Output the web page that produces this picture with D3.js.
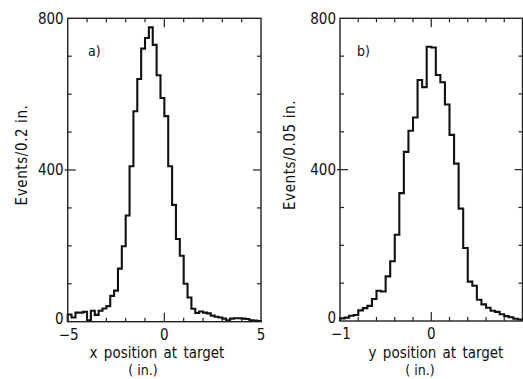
<!DOCTYPE html>
<html>
<head>
<meta charset="utf-8">
<script src="https://cdn.jsdelivr.net/npm/d3@7"></script>
<style>
  html, body { margin: 0; padding: 0; background: #fff; }
  svg { display: block; }
  text { font-family: "DejaVu Sans Condensed", "DejaVu Sans", sans-serif; fill: #111; }
</style>
</head>
<body>
<svg id="chart" width="523" height="379"></svg>
<script>
// ---- Data ----
// Panel a): x position at target, bins of 0.2 in. from -5 to 5
const binsA_start = -5;
const binsA_width = 0.2;
const countsA = [19, 11, 24, 24, 26, 4, 29, 18, 29, 35,
                 41, 68, 82, 140, 199, 280, 410, 555, 640, 720,
                 748, 776, 730, 650, 590, 542, 410, 308, 218, 174,
                 100, 64, 34, 23, 27, 24, 22, 16, 13, 11,
                 8, 4, 8, 9, 9, 8, 7, 4, 3, 2];
// Panel b): y position at target, bins of 0.05 in. from -1 to 1
const binsB_start = -1;
const binsB_width = 0.05;
const countsB = [7, 9, 14, 16, 28, 34, 40, 58, 80, 78,
                 118, 158, 228, 338, 447, 503, 538, 637, 618, 725,
                 723, 650, 631, 572, 492, 416, 297, 193, 104, 93,
                 56, 44, 35, 27, 24, 18, 13, 10, 6, 4];

const yTickLabels = [0, 400, 800];
const xTickLabelsA = [-5, 0, 5];
const xTickLabelsB = [-1, 0];

const svg = d3.select("#chart");

function panel(opts) {
  const { x, y, counts, start, width, minorX, labelsX, yTitle, xTitle, inX, tag, tagX } = opts;
  const g = svg.append("g");
  const [x0, x1] = x.range();
  const [yb, yt] = y.range();

  // histogram
  const pts = [[start, 0]];
  counts.forEach((c, i) => pts.push([start + i * width, c]));
  const end = start + counts.length * width;
  pts.push([end, counts[counts.length - 1]]);
  pts.push([end, 0]);
  const line = d3.line().x(d => x(d[0])).y(d => y(d[1])).curve(d3.curveStepAfter);
  g.append("path").attr("d", line(pts))
    .attr("fill", "none").attr("stroke", "#111").attr("stroke-width", 2.1)
    .attr("stroke-linejoin", "miter");

  // frame
  g.append("rect").attr("x", x0).attr("y", yt).attr("width", x1 - x0).attr("height", yb - yt)
    .attr("fill", "none").attr("stroke", "#222").attr("stroke-width", 1.4);

  // y ticks (every 100)
  const yt100 = d3.range(0, 801, 100);
  yt100.forEach(v => {
    const major = v % 400 === 0;
    const len = major ? 8 : 4;
    if (v > 0 && v < 800) {
      g.append("line").attr("x1", x0 - (major ? 3 : 0)).attr("x2", x0 + len)
        .attr("y1", y(v)).attr("y2", y(v)).attr("stroke", "#222").attr("stroke-width", 1.2);
      g.append("line").attr("x1", x1 - len).attr("x2", x1)
        .attr("y1", y(v)).attr("y2", y(v)).attr("stroke", "#222").attr("stroke-width", 1.2);
    }
  });
  // x ticks
  minorX.forEach(v => {
    const major = Math.abs(v) < 1e-9;
    const len = major ? 9 : 4;
    if (x(v) > x0 + 1 && x(v) < x1 - 1) {
      g.append("line").attr("x1", x(v)).attr("x2", x(v)).attr("y1", yt).attr("y2", yt + len)
        .attr("stroke", "#222").attr("stroke-width", 1.2);
      g.append("line").attr("x1", x(v)).attr("x2", x(v)).attr("y1", yb - len).attr("y2", yb)
        .attr("stroke", "#222").attr("stroke-width", 1.2);
    }
  });

  // y tick labels
  yTickLabels.forEach(v => {
    g.append("text").attr("x", x0 - 4).attr("y", y(v)).attr("dy", v === 0 ? "0.15em" : "0.36em")
      .attr("text-anchor", "end").attr("font-size", 15).text(v);
  });
  // x tick labels
  labelsX.forEach(v => {
    g.append("text").attr("x", x(v) + (v < 0 ? 1 : 0)).attr("y", yb + 18)
      .attr("text-anchor", "middle").attr("font-size", 15)
      .text(v < 0 ? "\u2212" + Math.abs(v) : v);
  });

  // titles
  g.append("text").attr("transform", `translate(${opts.yTitleX},155) rotate(-90)`)
    .attr("text-anchor", "middle").attr("font-size", 15).attr("letter-spacing", 0.6)
    .text(yTitle);
  g.append("text").attr("x", opts.xTitleX).attr("y", 358).attr("text-anchor", "middle")
    .attr("font-size", 15).attr("word-spacing", 2).text(xTitle);
  g.append("text").attr("x", opts.inXpos).attr("y", 375).attr("text-anchor", "middle")
    .attr("font-size", 14).text(inX);
  g.append("text").attr("x", tagX).attr("y", 56).attr("font-size", 14).text(tag);
}

const xA = d3.scaleLinear().domain([-5, 5]).range([67.7, 261]);
const yA = d3.scaleLinear().domain([0, 800]).range([321.7, 18.3]);
panel({ x: xA, y: yA, counts: countsA, start: binsA_start, width: binsA_width,
  minorX: d3.range(-5, 5.01, 1), labelsX: xTickLabelsA,
  yTitle: "Events/0.2 in.", yTitleX: 27, xTitle: "x position at target", xTitleX: 157,
  inX: "( in.)", inXpos: 143, tag: "a)", tagX: 88 });

const xB = d3.scaleLinear().domain([-1, 1]).range([340, 522.5]);
const yB = d3.scaleLinear().domain([0, 800]).range([321, 18.3]);
panel({ x: xB, y: yB, counts: countsB, start: binsB_start, width: binsB_width,
  minorX: d3.range(-1, 1.001, 0.2).map(v => Math.round(v * 10) / 10), labelsX: xTickLabelsB,
  yTitle: "Events/0.05 in.", yTitleX: 295, xTitle: "y position at target", xTitleX: 436,
  inX: "( in.)", inXpos: 420, tag: "b)", tagX: 357 });
</script>
</body>
</html>
